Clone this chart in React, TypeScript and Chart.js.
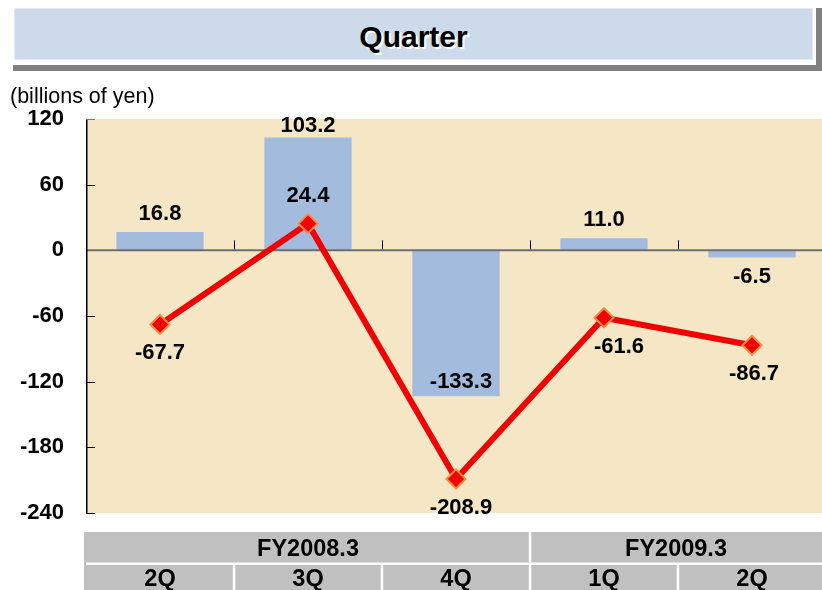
import React, { useEffect, useRef } from 'react';
import { Chart, registerables } from 'chart.js';

Chart.register(...registerables);

// ---- data ----
const titleText = 'Quarter';
const unitLabel = '(billions of yen)';
const categories = ['2Q', '3Q', '4Q', '1Q', '2Q'];
const fiscalYears = ['FY2008.3', 'FY2009.3'];
const fiscalYearSpans = [3, 2];
const barValues = [16.8, 103.2, -133.3, 11.0, -6.5];
const lineValues = [-67.7, 24.4, -208.9, -61.6, -86.7];
const barLabelPlacement = ['out', 'out', 'in', 'out', 'out'];
const lineLabelPlacement = ['below', 'above', 'below', 'below', 'below'];
const yMin = -240;
const yMax = 120;
const yStep = 60;

// ---- style ----
const FONT = "'Liberation Sans', Arial, Helvetica, sans-serif";
const PLOT_BG = '#F5E7C5';
const BAR_COLOR = '#A3BBDC';
const LINE_COLOR = '#F00000';
const MARKER_BORDER = '#FF8A3C';
const TABLE_BG = '#C0C0C0';
const ZERO_LINE = '#6E6E6E';
const CANVAS_W = 826;
const CANVAS_H = 590;
// small horizontal nudges of labels (style only)
const barLabelNudgeX = [0, 0, 5, 0, 0];
const lineLabelNudgeX = [0, 0, 5, 15, 2];

const BAR_INDEX = 0;
const LINE_INDEX = 1;

const decorPlugin = {
  id: 'decor',
  beforeDraw(chart: any) {
    const { ctx, chartArea: a } = chart;
    ctx.save();
    ctx.fillStyle = PLOT_BG;
    ctx.fillRect(a.left, a.top, a.right - a.left, a.bottom - a.top);
    ctx.restore();
  },
  afterDatasetDraw(chart: any, args: any) {
    if (args.index !== BAR_INDEX) return;
    const { ctx, chartArea: a, scales } = chart;
    const y0 = scales.y.getPixelForValue(0);
    const xs = scales.x;
    const catW = (a.right - a.left) / categories.length;
    ctx.save();
    ctx.strokeStyle = '#000';
    ctx.lineWidth = 1;
    for (let i = 1; i < categories.length; i++) {
      const bx = Math.round(xs.getPixelForValue(i) - catW / 2) + 0.5;
      ctx.beginPath();
      ctx.moveTo(bx, y0);
      ctx.lineTo(bx, y0 - 10);
      ctx.stroke();
    }
    ctx.strokeStyle = ZERO_LINE;
    ctx.lineWidth = 2;
    ctx.beginPath();
    ctx.moveTo(a.left, y0);
    ctx.lineTo(a.right, y0);
    ctx.stroke();
    ctx.restore();
  },
  afterDatasetsDraw(chart: any) {
    const { ctx, chartArea: a, scales } = chart;
    const ys = scales.y;
    ctx.save();
    ctx.strokeStyle = '#000';
    ctx.lineWidth = 1.5;
    ctx.beginPath();
    ctx.moveTo(a.left + 0.75, a.top);
    ctx.lineTo(a.left + 0.75, a.bottom);
    ctx.stroke();
    ctx.lineWidth = 1;
    for (let v = yMin; v <= yMax; v += yStep) {
      if (v === 0) continue;
      const py = Math.round(ys.getPixelForValue(v)) + 0.5;
      ctx.strokeStyle = v === yMax ? '#777' : '#000';
      ctx.beginPath();
      ctx.moveTo(a.left, py);
      ctx.lineTo(a.left + 9, py);
      ctx.stroke();
    }
    const fs = 22;
    ctx.font = `bold ${fs}px ${FONT}`;
    ctx.fillStyle = '#000';
    ctx.textAlign = 'center';
    ctx.textBaseline = 'alphabetic';
    const capHalf = fs * 0.358;
    const barMeta = chart.getDatasetMeta(BAR_INDEX);
    barMeta.data.forEach((el: any, i: number) => {
      const v = barValues[i];
      let cy: number;
      if (v >= 0) {
        cy = barLabelPlacement[i] === 'out' ? el.y - 20 : el.y + 16;
      } else {
        cy = barLabelPlacement[i] === 'out' ? el.y + 18 : el.y - 16;
      }
      cy = Math.max(cy, a.top + 5);
      ctx.fillText(v.toFixed(1), el.x + barLabelNudgeX[i], cy + capHalf);
    });
    const lineMeta = chart.getDatasetMeta(LINE_INDEX);
    lineMeta.data.forEach((el: any, i: number) => {
      const v = lineValues[i];
      const cy = lineLabelPlacement[i] === 'above' ? el.y - 30 : el.y + 27;
      ctx.fillText(v.toFixed(1), el.x + lineLabelNudgeX[i], cy + capHalf);
    });
    ctx.restore();
  },
  afterDraw(chart: any) {
    const { ctx, chartArea: a, scales, width } = chart;
    const xs = scales.x;
    const catW = (a.right - a.left) / categories.length;
    const r1Top = 532;
    const r1Bot = 562.5;
    const r2Top = 565;
    const r2Bot = CANVAS_H;
    ctx.save();
    ctx.fillStyle = TABLE_BG;
    ctx.fillRect(a.left - 2, r1Top, width - (a.left - 2), r2Bot - r1Top);
    ctx.fillStyle = '#fff';
    ctx.fillRect(a.left, r1Bot, width - a.left, r2Top - r1Bot);
    const fs = 23.5;
    ctx.font = `bold ${fs}px ${FONT}`;
    ctx.textAlign = 'center';
    ctx.textBaseline = 'alphabetic';
    const capHalf = fs * 0.358;
    let start = 0;
    fiscalYears.forEach((fy, g) => {
      const n = fiscalYearSpans[g];
      const left = xs.getPixelForValue(start) - catW / 2;
      const right = Math.min(xs.getPixelForValue(start + n - 1) + catW / 2, 822);
      if (start > 0) {
        ctx.fillStyle = '#fff';
        ctx.fillRect(left - 1.25, r1Top, 2.5, r1Bot - r1Top);
      }
      ctx.fillStyle = '#000';
      ctx.fillText(fy, (left + right) / 2, (r1Top + r1Bot) / 2 + capHalf);
      start += n;
    });
    categories.forEach((c, i) => {
      const cx = xs.getPixelForValue(i);
      if (i > 0) {
        ctx.fillStyle = '#fff';
        ctx.fillRect(cx - catW / 2 - 1.25, r2Top, 2.5, r2Bot - r2Top);
      }
      ctx.fillStyle = '#000';
      ctx.fillText(c, cx, (r2Top + r2Bot) / 2 + capHalf);
    });
    ctx.restore();
  },
};

export default function App() {
  const canvasRef = useRef<HTMLCanvasElement | null>(null);

  useEffect(() => {
    document.body.style.margin = '0';
    const canvas = canvasRef.current;
    if (!canvas) return;
    const chart = new Chart(canvas, {
      type: 'bar',
      data: {
        labels: categories,
        datasets: [
          {
            type: 'bar',
            data: barValues,
            backgroundColor: BAR_COLOR,
            borderWidth: 0,
            barPercentage: 0.59,
            categoryPercentage: 1.0,
            order: 2,
          } as any,
          {
            type: 'line',
            data: lineValues,
            borderColor: LINE_COLOR,
            borderWidth: 6,
            tension: 0,
            pointStyle: 'rectRot',
            pointRadius: 9.5,
            pointBackgroundColor: LINE_COLOR,
            pointBorderColor: MARKER_BORDER,
            pointBorderWidth: 2,
            order: 1,
          } as any,
        ],
      },
      options: {
        responsive: false,
        animation: false,
        devicePixelRatio: 1,
        layout: { autoPadding: false, padding: { left: 0, right: 0, top: 119, bottom: 77 } },
        plugins: {
          legend: { display: false },
          title: { display: false },
          tooltip: { enabled: false },
        },
        scales: {
          x: {
            type: 'category',
            display: false,
            offset: true,
          },
          y: {
            type: 'linear',
            min: yMin,
            max: yMax,
            border: { display: false },
            grid: { display: false, drawTicks: false },
            ticks: {
              stepSize: yStep,
              padding: 22,
              color: '#000',
              font: { family: FONT, size: 22, weight: 'bold' },
              callback: (v: any) => String(v),
            },
            afterFit: (scale: any) => {
              scale.width = 86;
            },
          },
        },
      } as any,
      plugins: [decorPlugin],
    });
    return () => chart.destroy();
  }, []);

  return (
    <div
      style={{
        position: 'absolute',
        left: 0,
        top: 0,
        width: 822,
        height: 590,
        overflow: 'hidden',
        background: '#fff',
      }}
    >
      <canvas
        ref={canvasRef}
        width={CANVAS_W}
        height={CANVAS_H}
        style={{ position: 'absolute', left: 0, top: 0, width: CANVAS_W, height: CANVAS_H, display: 'block' }}
      />
      <div style={{ position: 'absolute', left: 13, top: 8, width: 809, height: 63, background: '#808080' }} />
      <div style={{ position: 'absolute', left: 10, top: 5, width: 806, height: 60, background: '#fff' }} />
      <div
        style={{
          position: 'absolute',
          left: 14,
          top: 8,
          width: 799,
          height: 51.5,
          background: '#CDDAEA',
          boxSizing: 'border-box',
          border: '1px solid #E2EAF4',
        }}
      />
      <div
        style={{
          position: 'absolute',
          left: 14,
          top: 21.5,
          width: 799,
          height: 30,
          lineHeight: '30px',
          textAlign: 'center',
          fontFamily: FONT,
          fontWeight: 'bold',
          fontSize: 30,
          color: '#000',
          textShadow: '2px 2px 0 #fff',
          whiteSpace: 'nowrap',
        }}
      >
        {titleText}
      </div>
      <div
        style={{
          position: 'absolute',
          left: 10,
          top: 84.5,
          height: 22,
          lineHeight: '22px',
          fontFamily: FONT,
          fontSize: 21.5,
          color: '#000',
          whiteSpace: 'nowrap',
        }}
      >
        {unitLabel}
      </div>
    </div>
  );
}
